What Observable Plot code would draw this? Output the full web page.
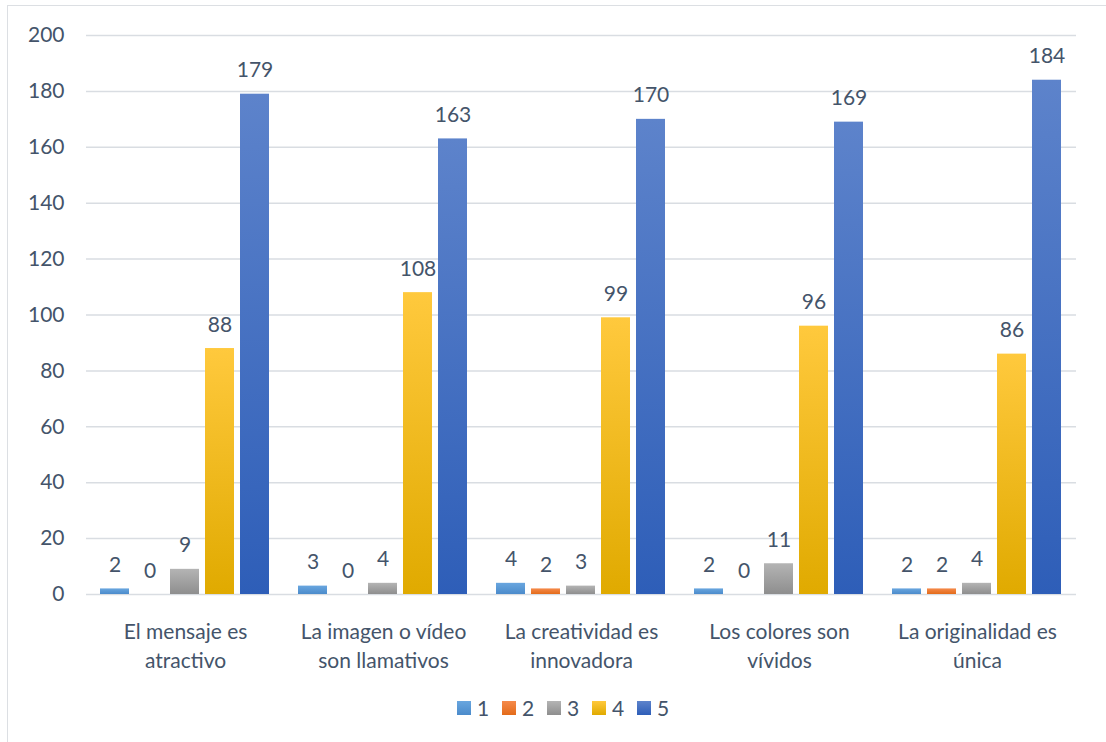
<!DOCTYPE html>
<html>
<head>
<meta charset="utf-8">
<script src="https://cdn.jsdelivr.net/npm/d3@7"></script>
<script src="https://cdn.jsdelivr.net/npm/@observablehq/plot@0.6"></script>
<style>
  body { margin: 0; background: #fff; overflow: hidden; font-family: Lato, "Open Sans", sans-serif; }
  #frame { position: absolute; left: 7px; top: 5px; width: 1130px; height: 780px; border: 1.5px solid #dcdfe3; box-sizing: border-box; }
  #chart { position: absolute; left: 0; top: 0; }
  #legend { position: absolute; left: 457px; top: 697px; height: 22px; display: flex; align-items: center; }
  .item { width: 45px; display: flex; align-items: center; font-size: 21px; color: #44546A; line-height: 22px; }
  .sw { width: 14px; height: 14px; margin-right: 6px; }
</style>
</head>
<body>
<div id="frame"></div>
<div id="chart"></div>
<div id="legend"></div>
<script>
// ---- data ----
const categories = [
  "El mensaje es\natractivo",
  "La imagen o vídeo\nson llamativos",
  "La creatividad es\ninnovadora",
  "Los colores son\nvívidos",
  "La originalidad es\núnica"
];
const seriesNames = ["1", "2", "3", "4", "5"];
const values1 = [2, 3, 4, 2, 2];
const values2 = [0, 0, 2, 0, 2];
const values3 = [9, 4, 3, 11, 4];
const values4 = [88, 108, 99, 96, 86];
const values5 = [179, 163, 170, 169, 184];
const yTicks = [0, 20, 40, 60, 80, 100, 120, 140, 160, 180, 200];
const gradTop = ["#69a6df", "#f58a4b", "#b4b4b4", "#ffc93d", "#5d83cb"];
const gradBottom = ["#4b8bcb", "#e36b1a", "#8e8e8e", "#e0aa00", "#2e5eb8"];

const allValues = [values1, values2, values3, values4, values5];
const rows = [];
categories.forEach((c, ci) => {
  seriesNames.forEach((s, si) => {
    rows.push({category: c, series: s, value: allValues[si][ci]});
  });
});

const textColor = "#44546A";

const chart = Plot.plot({
  width: 1106,
  height: 680,
  marginLeft: 84,
  marginRight: 28,
  marginTop: 35,
  marginBottom: 86,
  style: {fontFamily: "Lato, 'Open Sans', sans-serif", background: "transparent", color: textColor},
  fx: {domain: categories, padding: 0, axis: null},
  x: {domain: seriesNames, paddingInner: 0.164, paddingOuter: 0.398, axis: null},
  y: {domain: [0, 200], axis: null},
  marks: [
    Plot.gridY(yTicks, {stroke: "#d9dde2", strokeOpacity: 1, strokeWidth: 1.5}),
    ...seriesNames.map((s, si) =>
      Plot.barY(rows.filter(d => d.series === s), {
        fx: "category", x: "series", y: "value", fill: `url(#grad${si})`
      })
    ),
    Plot.text(rows, {
      fx: "category", x: "series", y: "value", text: d => String(d.value),
      lineAnchor: "bottom", dy: -17, fontSize: 21, fill: textColor
    }),
    Plot.axisY({ticks: yTicks, tickSize: 0, tickPadding: 22, fontSize: 21, label: null, fill: textColor}),
    Plot.axisFx({anchor: "bottom", tickSize: 0, tickPadding: 24, fontSize: 21, lineHeight: 1.38, label: null, fill: textColor})
  ]
});

const defs = d3.select(chart).insert("defs", ":first-child");
seriesNames.forEach((s, si) => {
  const g = defs.append("linearGradient").attr("id", `grad${si}`)
    .attr("x1", 0).attr("y1", 0).attr("x2", 0).attr("y2", 1);
  g.append("stop").attr("offset", "0%").attr("stop-color", gradTop[si]);
  g.append("stop").attr("offset", "100%").attr("stop-color", gradBottom[si]);
});

document.getElementById("chart").appendChild(chart);

const legend = d3.select("#legend");
seriesNames.forEach((s, si) => {
  const it = legend.append("div").attr("class", "item");
  it.append("div").attr("class", "sw")
    .style("background", `linear-gradient(${gradTop[si]}, ${gradBottom[si]})`);
  it.append("span").text(s);
});
</script>
</body>
</html>
